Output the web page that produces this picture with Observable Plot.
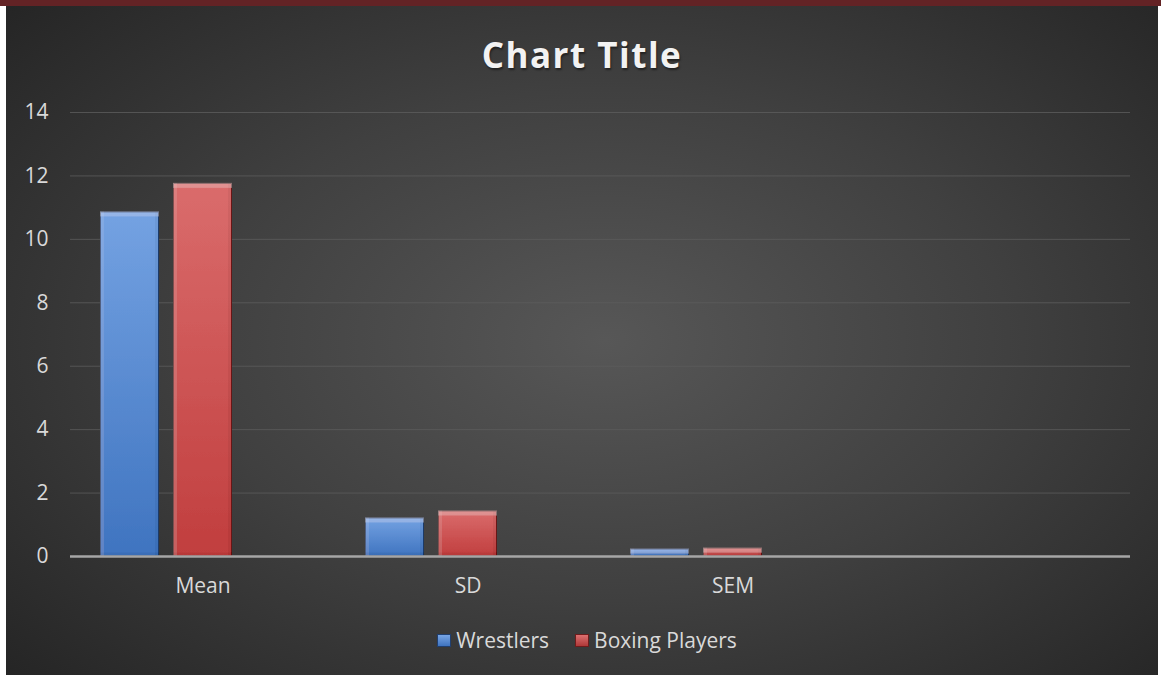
<!DOCTYPE html>
<html>
<head>
<meta charset="utf-8">
<script src="https://cdn.jsdelivr.net/npm/d3@7"></script>
<script src="https://cdn.jsdelivr.net/npm/@observablehq/plot@0.6"></script>
<style>
  html, body { margin: 0; padding: 0; background: #ffffff; width: 1161px; height: 675px; overflow: hidden; }
  #strip { position: absolute; left: 0; top: 0; width: 1161px; height: 6px; background: #632325; }
  #chart {
    position: absolute; left: 6px; top: 6px; width: 1152px; height: 669px;
    background: radial-gradient(ellipse 70% 75% at 52% 50%, #575757 0%, #404040 50%, #252525 100%);
    font-family: "Open Sans", sans-serif;
  }
  #title {
    position: absolute; left: 0; top: 25px; width: 100%; text-align: center;
    color: #f2f2f2; font-weight: bold; font-size: 35px; letter-spacing: 1.5px; line-height: normal;
    font-family: "Open Sans", sans-serif; text-shadow: 1px 2px 2px rgba(0,0,0,0.45);
  }
  #plot { position: absolute; left: 0; top: 84px; }
  #legend {
    position: absolute; left: 5px; top: 620px; width: 1152px;
    color: #d9d9d9; font-size: 21px; line-height: normal; display: flex; justify-content: center; gap: 26px;
  }
  .item { display: flex; align-items: center; gap: 5px; }
  .sw { width: 14px; height: 13px; display: inline-block; box-sizing: border-box; }
</style>
</head>
<body>
<div id="strip"></div>
<div id="chart">
  <div id="title">Chart Title</div>
  <div id="plot"></div>
  <div id="legend"></div>
</div>
<script>
const categories = ["Mean", "SD", "SEM"];
const seriesNames = ["Wrestlers", "Boxing Players"];
const wrestlers = [10.85, 1.2, 0.22];
const boxing = [11.75, 1.42, 0.25];
const yTicks = [0, 2, 4, 6, 8, 10, 12, 14];

const xDomain = [...categories, " "];
const wData = categories.map((c, i) => ({cat: c, series: seriesNames[0], value: wrestlers[i]}));
const bData = categories.map((c, i) => ({cat: c, series: seriesNames[1], value: boxing[i]}));

const W = 1152, H = 510;
const plot = Plot.plot({
  width: W,
  height: H,
  marginLeft: 64,
  marginRight: 28,
  marginTop: 22,
  marginBottom: 44,
  style: {background: "transparent", color: "#d9d9d9", fontFamily: "Open Sans, sans-serif", fontSize: "21px"},
  x: {domain: xDomain, padding: 0, label: null, tickSize: 0, tickPadding: 22, tickFormat: d => d.trim()},
  y: {domain: [0, 14], ticks: yTicks, label: null, tickSize: 0, tickPadding: 22},
  marks: [
    Plot.ruleY(yTicks.filter(t => t > 0), {stroke: "#5c5c5c", strokeWidth: 1, strokeOpacity: 0.8}),
    Plot.barY(wData, {x: "cat", y: "value", fill: "url(#gradBlue)", stroke: "#203f70", strokeWidth: 1,
      insetLeft: 103.5, insetRight: 103.5, dx: -73}),
    Plot.barY(bData, {x: "cat", y: "value", fill: "url(#gradRed)", stroke: "#6e1c1c", strokeWidth: 1,
      insetLeft: 103.5, insetRight: 103.5, dx: 0}),
    Plot.ruleY([0], {stroke: "#a6a6a6", strokeWidth: 2.5})
  ]
});

const svg = d3.select(plot);
const defs = svg.insert("defs", ":first-child");
const gb = defs.append("linearGradient").attr("id", "gradBlue").attr("x1", 0).attr("y1", 0).attr("x2", 0).attr("y2", 1);
gb.append("stop").attr("offset", "0%").attr("stop-color", "#74a2e2");
gb.append("stop").attr("offset", "100%").attr("stop-color", "#3f74c0");
const gr = defs.append("linearGradient").attr("id", "gradRed").attr("x1", 0).attr("y1", 0).attr("x2", 0).attr("y2", 1);
gr.append("stop").attr("offset", "0%").attr("stop-color", "#da6c6c");
gr.append("stop").attr("offset", "100%").attr("stop-color", "#c13e3e");

// bevel filter: lighter top band, darker bottom band, subtle side shading
const f = defs.append("filter").attr("id", "bevel").attr("x", "-5%").attr("y", "-5%").attr("width", "110%").attr("height", "110%");
f.append("feOffset").attr("in", "SourceAlpha").attr("dy", 5).attr("result", "down");
f.append("feComposite").attr("in", "SourceAlpha").attr("in2", "down").attr("operator", "out").attr("result", "topBand");
f.append("feFlood").attr("flood-color", "#ffffff").attr("flood-opacity", 0.16).attr("result", "white");
f.append("feComposite").attr("in", "white").attr("in2", "topBand").attr("operator", "in").attr("result", "topHi");
f.append("feOffset").attr("in", "SourceAlpha").attr("dy", -4).attr("result", "up");
f.append("feComposite").attr("in", "SourceAlpha").attr("in2", "up").attr("operator", "out").attr("result", "botBand");
f.append("feFlood").attr("flood-color", "#000000").attr("flood-opacity", 0.1).attr("result", "black");
f.append("feComposite").attr("in", "black").attr("in2", "botBand").attr("operator", "in").attr("result", "botSh");
f.append("feOffset").attr("in", "SourceAlpha").attr("dx", 4).attr("result", "right");
f.append("feComposite").attr("in", "SourceAlpha").attr("in2", "right").attr("operator", "out").attr("result", "leftBand");
f.append("feFlood").attr("flood-color", "#ffffff").attr("flood-opacity", 0.07).attr("result", "white2");
f.append("feComposite").attr("in", "white2").attr("in2", "leftBand").attr("operator", "in").attr("result", "leftHi");
f.append("feOffset").attr("in", "SourceAlpha").attr("dx", -4).attr("result", "left");
f.append("feComposite").attr("in", "SourceAlpha").attr("in2", "left").attr("operator", "out").attr("result", "rightBand");
f.append("feFlood").attr("flood-color", "#000000").attr("flood-opacity", 0.1).attr("result", "black2");
f.append("feComposite").attr("in", "black2").attr("in2", "rightBand").attr("operator", "in").attr("result", "rightSh");
const m = f.append("feMerge");
["SourceGraphic", "leftHi", "rightSh", "botSh", "topHi"].forEach(n => m.append("feMergeNode").attr("in", n));
svg.selectAll("g[aria-label='bar'] rect").attr("filter", "url(#bevel)");

document.getElementById("plot").appendChild(plot);

const legend = document.getElementById("legend");
const swatchColors = {"Wrestlers": ["#78a5e4", "#3f74c0", "#203f70"], "Boxing Players": ["#dc7070", "#b03838", "#6e1c1c"]};
seriesNames.forEach(name => {
  const item = document.createElement("div");
  item.className = "item";
  const sw = document.createElement("span");
  sw.className = "sw";
  const c = swatchColors[name];
  sw.style.background = `linear-gradient(${c[0]}, ${c[1]})`;
  sw.style.border = "1px solid " + c[2];
  const label = document.createElement("span");
  label.textContent = name;
  item.appendChild(sw);
  item.appendChild(label);
  legend.appendChild(item);
});
</script>
</body>
</html>
